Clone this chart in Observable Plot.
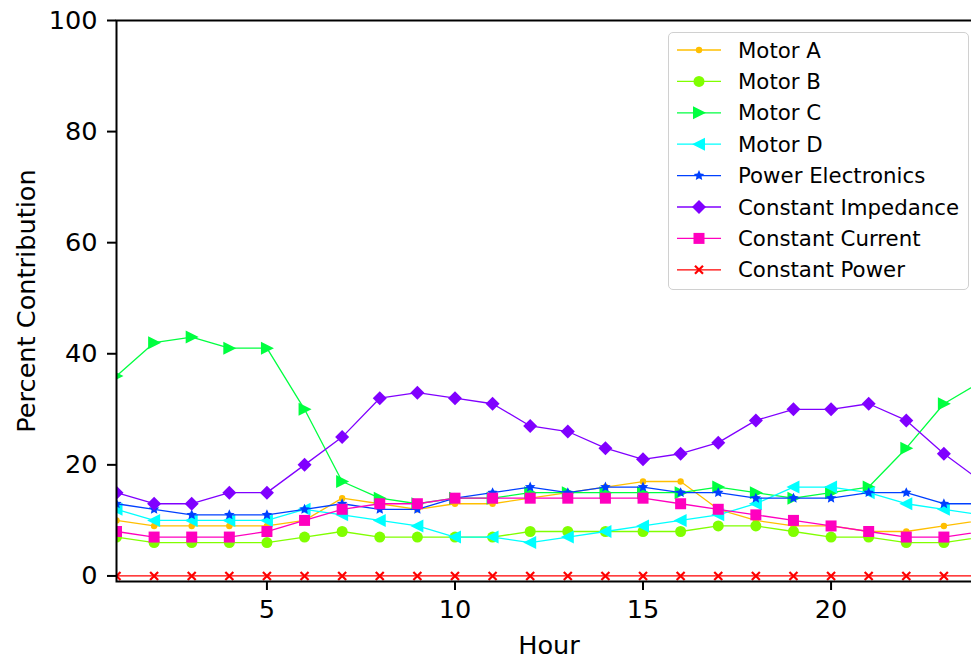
<!DOCTYPE html>
<html><head><meta charset="utf-8">
<script src="https://cdn.jsdelivr.net/npm/d3@7"></script>
<script src="https://cdn.jsdelivr.net/npm/@observablehq/plot@0.6"></script>
<style>
html,body{margin:0;padding:0;background:#fff;overflow:hidden;}
#wrap{position:relative;width:990px;height:658px;overflow:hidden;font-family:"DejaVu Sans",sans-serif;}
#wrap > svg{max-width:none !important;}
#legend{position:absolute;left:668px;top:32px;width:301px;height:258px;box-sizing:border-box;border:1.5px solid #d0d0d0;border-radius:5px;background:rgba(255,255,255,0.85);}
</style></head><body><div id="wrap"></div>
<script>
// ---- data ----
const hours = [1,2,3,4,5,6,7,8,9,10,11,12,13,14,15,16,17,18,19,20,21,22,23,24];
const seriesNames = ["Motor A","Motor B","Motor C","Motor D","Power Electronics","Constant Impedance","Constant Current","Constant Power"];
const motorA = [10,9,9,9,9,10,14,13,12,13,13,14,15,16,17,17,12,10,9,9,8,8,9,10];
const motorB = [7,6,6,6,6,7,8,7,7,7,7,8,8,8,8,8,9,9,8,7,7,6,6,7];
const motorC = [36,42,43,41,41,30,17,14,13,14,14,15,15,15,15,15,16,15,14,15,16,23,31,35];
const motorD = [12,10,10,10,10,12,11,10,9,7,7,6,7,8,9,10,11,13,16,16,15,13,12,11];
const powerElectronics = [13,12,11,11,11,12,13,12,12,14,15,16,15,16,16,15,15,14,14,14,15,15,13,13];
const constImpedance = [15,13,13,15,15,20,25,32,33,32,31,27,26,23,21,22,24,28,30,30,31,28,22,17];
const constCurrent = [8,7,7,7,8,10,12,13,13,14,14,14,14,14,14,13,12,11,10,9,8,7,7,8];
const constPower = [0,0,0,0,0,0,0,0,0,0,0,0,0,0,0,0,0,0,0,0,0,0,0,0];
const yTicks = [0,20,40,60,80,100];
const xTicks = [5,10,15,20];

// ---- marker shapes ----
const circ = r => ({draw(c){ c.moveTo(r,0); c.arc(0,0,r,0,2*Math.PI); }});
const triRight = {draw(c){ c.moveTo(7,0); c.lineTo(-6,-6.5); c.lineTo(-6,6.5); c.closePath(); }};
const triLeft = {draw(c){ c.moveTo(-7,0); c.lineTo(6,-6.5); c.lineTo(6,6.5); c.closePath(); }};
const diamond = {draw(c){ const h=7; c.moveTo(0,-h); c.lineTo(h,0); c.lineTo(0,h); c.lineTo(-h,0); c.closePath(); }};
const square = {draw(c){ const h=5.5; c.moveTo(-h,-h); c.lineTo(h,-h); c.lineTo(h,h); c.lineTo(-h,h); c.closePath(); }};
const star = {draw(c){ const R=5.5, r=2.6; for(let i=0;i<10;i++){ const a=-Math.PI/2+i*Math.PI/5; const rr=i%2?r:R; const x=rr*Math.cos(a), y=rr*Math.sin(a); i?c.lineTo(x,y):c.moveTo(x,y);} c.closePath(); }};
const cross = {draw(c){ const s=4; c.moveTo(-s,-s); c.lineTo(s,s); c.moveTo(s,-s); c.lineTo(-s,s); }};

const values = [motorA,motorB,motorC,motorD,powerElectronics,constImpedance,constCurrent,constPower];
const colors = ["#ffbf00","#80ff00","#00ff40","#00ffff","#0040ff","#8000ff","#ff00bf","#ff0000"];
const shapes = [circ(3.2),circ(5.5),triRight,triLeft,star,diamond,square,cross];
const stroked = [false,false,false,false,false,false,false,true];

const marks = [];
values.forEach((vals,k)=>{
  const rows = hours.map((h,i)=>({h, v: vals[i]}));
  marks.push(Plot.line(rows,{x:"h",y:"v",stroke:colors[k],strokeWidth:1.3,clip:true}));
  marks.push(Plot.dot(rows, stroked[k]
    ? {x:"h",y:"v",symbol:shapes[k],fill:"none",stroke:colors[k],strokeWidth:2.2,r:4,clip:true}
    : {x:"h",y:"v",symbol:shapes[k],fill:colors[k],stroke:"none",r:4,clip:true}));
});

const chart = Plot.plot({
  width: 990, height: 658,
  marginLeft: 116, marginRight: 9, marginTop: 20, marginBottom: 77,
  style: {fontFamily: "DejaVu Sans", fontSize: "25.6px", color: "black", background: "white"},
  x: {domain: [1,24]},
  y: {domain: [-1,100]},
  marks: [
    ...marks,
    Plot.frame({stroke:"black", strokeWidth:2}),
    Plot.axisY({ticks: yTicks, tickSize: 9, tickPadding: 10, strokeWidth: 2, fontSize: 25.6, label: null}),
    Plot.axisX({ticks: xTicks, tickSize: 9, tickPadding: 9, strokeWidth: 2, fontSize: 25.6, label: null}),
    Plot.text(["Percent Contribution"], {text: d=>d, frameAnchor: "left", textAnchor: "middle", lineAnchor: "middle", rotate: -90, dx: -90, fontSize: 25.6, fill: "black"}),
    Plot.text(["Hour"], {text: d=>d, frameAnchor: "bottom", lineAnchor: "middle", dy: 64, fontSize: 25.6, fill: "black"})
  ]
});
const wrap = document.getElementById("wrap");
wrap.appendChild(chart);

// ---- legend ----
const leg = document.createElement("div");
leg.id = "legend";
const ns = "http://www.w3.org/2000/svg";
const svg = document.createElementNS(ns,"svg");
svg.setAttribute("width","298"); svg.setAttribute("height","255");
seriesNames.forEach((name,k)=>{
  const y = 17 + k*31.4;
  const ln = document.createElementNS(ns,"line");
  ln.setAttribute("x1",8); ln.setAttribute("x2",52); ln.setAttribute("y1",y); ln.setAttribute("y2",y);
  ln.setAttribute("stroke",colors[k]); ln.setAttribute("stroke-width",1.3);
  svg.appendChild(ln);
  const p = d3.path(); shapes[k].draw(p, 50);
  const path = document.createElementNS(ns,"path");
  path.setAttribute("d", p.toString());
  path.setAttribute("transform", `translate(30,${y})`);
  if (stroked[k]) { path.setAttribute("fill","none"); path.setAttribute("stroke",colors[k]); path.setAttribute("stroke-width",2.2); }
  else path.setAttribute("fill",colors[k]);
  svg.appendChild(path);
  const t = document.createElementNS(ns,"text");
  t.setAttribute("x",69); t.setAttribute("y",y); t.setAttribute("dy","0.36em");
  t.setAttribute("font-size","21.3px"); t.setAttribute("font-family","DejaVu Sans"); t.setAttribute("fill","black");
  t.textContent = name;
  svg.appendChild(t);
});
leg.appendChild(svg);
wrap.appendChild(leg);
</script>
</body></html>
